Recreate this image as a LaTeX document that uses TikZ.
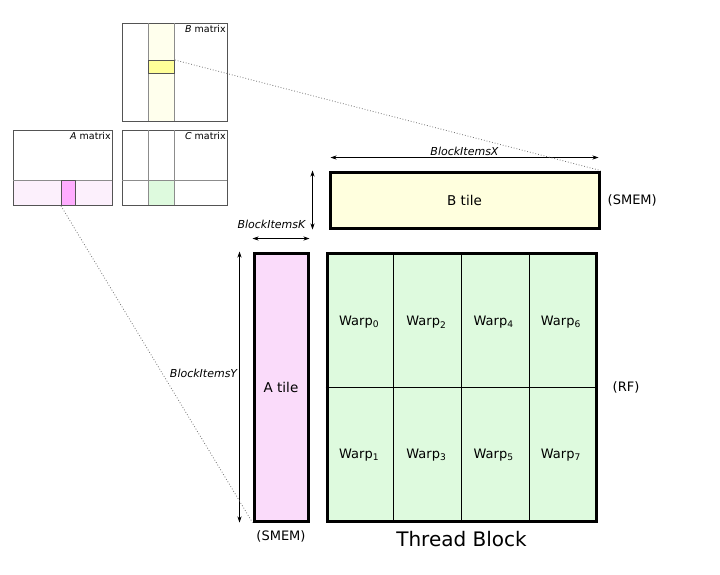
\documentclass[tikz,border=0pt]{standalone}
\usepackage{fontspec}
\setmainfont{DejaVu Sans}
\usetikzlibrary{arrows.meta, positioning, calc}
\definecolor{TileYellow}{rgb}{1.0, 1.0, 0.87}
\definecolor{TilePink}{rgb}{0.98, 0.86, 0.98}
\definecolor{TileGreen}{rgb}{0.87, 0.98, 0.87}
\definecolor{BrightYellow}{rgb}{1.0, 1.0, 0.6}
\definecolor{BrightPink}{rgb}{1.0, 0.68, 1.0}
\definecolor{PaleYellow}{rgb}{1.0, 1.0, 0.93}
\definecolor{PalePink}{rgb}{0.99, 0.94, 0.99}
\definecolor{MatGrey}{rgb}{0.33, 0.33, 0.33}
\definecolor{LineGrey}{rgb}{0.55, 0.55, 0.55}
\definecolor{DotGrey}{rgb}{0.45, 0.45, 0.45}

\begin{document}
\begin{tikzpicture}[x=1pt, y=-1pt, font=\fontsize{13}{15}\selectfont,
    tile/.style={draw=black, line width=3pt, anchor=north west, inner sep=0pt,
                 font=\fontsize{13.5}{16}\selectfont},
    smallmat/.style={draw=MatGrey, line width=0.9pt, anchor=north west, inner sep=0pt},
    subblock/.style={draw=MatGrey, line width=0.9pt, anchor=north west, inner sep=0pt},
    cellline/.style={line width=0.8pt},
    matline/.style={draw=LineGrey, line width=0.8pt},
    dimarrow/.style={{Stealth[length=6pt,width=4pt]}-{Stealth[length=6pt,width=4pt]}, line width=0.6pt},
    dimlabel/.style={font=\fontsize{11}{13}\selectfont\itshape, inner sep=1pt},
    zoomline/.style={draw=DotGrey, dotted, line width=0.8pt},
    matlabel/.style={font=\fontsize{9.5}{11}\selectfont, inner sep=2pt, anchor=north east}]

\useasboundingbox (0,0) rectangle (720,574);

% B matrix
\fill[PaleYellow] (148,23) rectangle (174,121);
\node[smallmat, minimum width=105, minimum height=98] (bmat) at (122,23) {};
\draw[matline] (148,23) -- (148,121) (174,23) -- (174,121);
\node[subblock, fill=BrightYellow, minimum width=26, minimum height=13] (bblk) at (148,60) {};
\node[matlabel] at (bmat.north east) {\textit{B} matrix};

% A matrix
\fill[PalePink] (13,180) rectangle (112,205);
\node[smallmat, minimum width=99, minimum height=75] (amat) at (13,130) {};
\draw[matline] (13,180) -- (112,180);
\node[subblock, fill=BrightPink, minimum width=14, minimum height=25] (ablk) at (61,180) {};
\node[matlabel] at (amat.north east) {\textit{A} matrix};

% C matrix
\fill[TileGreen] (148,180) rectangle (174,205);
\node[smallmat, minimum width=105, minimum height=75] (cmat) at (122,130) {};
\draw[matline] (148,130) -- (148,205) (174,130) -- (174,205) (122,180) -- (227,180);
\node[matlabel] at (cmat.north east) {\textit{C} matrix};

% tiles
\node[tile, fill=TileYellow, minimum width=269, minimum height=56] (btile) at (328.5,170.5) {B tile};
\node[tile, fill=TilePink, minimum width=54, minimum height=268] (atile) at (252.5,251.5) {A tile};
\node[tile, fill=TileGreen, minimum width=269, minimum height=268] (grid) at (325.5,252) {};

\foreach \i in {1,2,3}
    \draw[cellline] ($(grid.north west)!\i/4!(grid.north east)$) -- ($(grid.south west)!\i/4!(grid.south east)$);
\draw[cellline] (grid.west) -- (grid.east);

\foreach \c in {0,...,3}{
    \pgfmathtruncatemacro{\wa}{2*\c}
    \pgfmathtruncatemacro{\wb}{2*\c+1}
    \node (warp\wa) at ($(grid.north west)+({(\c+0.5)*269/4},70)$) {Warp\textsubscript{\wa}};
    \node (warp\wb) at ($(grid.north west)+({(\c+0.5)*269/4},203)$) {Warp\textsubscript{\wb}};
}

% dimensions
\draw[dimarrow] ($(btile.north west)+(2,-13)$) -- ($(btile.north east)+(-2,-13)$)
    node[dimlabel, midway, above=1pt] {BlockItemsX};
\draw[dimarrow] ($(btile.north west)+(-16,0)$) -- ($(btile.south west)+(-16,0)$);
\node[dimlabel, anchor=east] (klabel) at ($(btile.south west)+(-22,-5)$) {BlockItemsK};
\draw[dimarrow] ($(atile.north west)+(0,-13)$) -- ($(atile.north east)+(0,-13)$);
\draw[dimarrow] ($(atile.north west)+(-13,0)$) -- ($(atile.south west)+(-13,0)$)
    node[dimlabel, pos=0.45, left=1pt] {BlockItemsY};

% zoom lines
\draw[zoomline] (bblk.north east) -- (btile.north east);
\draw[zoomline] (ablk.south west) -- (atile.south west);

% memory notes
\node[right=7pt of btile, inner sep=0pt] (bsmem) {(SMEM)};
\node[right=15pt of grid, inner sep=0pt] (rfnote) {(RF)};
\node[below=8pt of atile, inner sep=0pt] (asmem) {(SMEM)};
\node[below=8pt of grid, font=\fontsize{20}{23}\selectfont, inner sep=0pt] (tblabel) {Thread Block};

\end{tikzpicture}
\end{document}
